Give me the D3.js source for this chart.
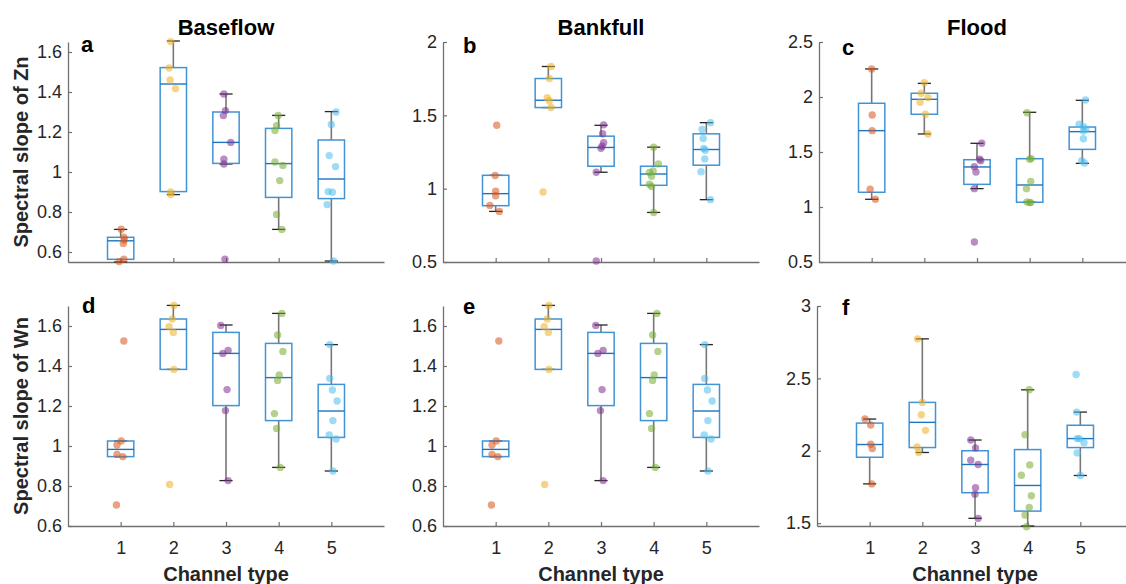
<!DOCTYPE html>
<html>
<head>
<meta charset="utf-8">
<script src="https://cdn.jsdelivr.net/npm/d3@7"></script>
<style>
  html, body { margin: 0; padding: 0; background: #fff; overflow: hidden; }
  svg { display: block; font-family: 'Liberation Sans', Arial, sans-serif; }
</style>
</head>
<body>
<svg id="chart" width="1126" height="584"></svg>
<script>
/* ------------------------------- data ------------------------------- */
const channels = [1, 2, 3, 4, 5];
const channelColors = ['#D95319', '#EDB120', '#7E2F8E', '#77AC30', '#4DBEEE'];
const flowTitles = ['Baseflow', 'Bankfull', 'Flood'];
const panelLetters = ['a', 'b', 'c', 'd', 'e', 'f'];
const rowLabels = ['Spectral slope of Zn', 'Spectral slope of Wn'];
const xLabel = 'Channel type';

const yLimits = [[0.55, 1.65], [0.5, 2], [0.5, 2.5], [0.6, 1.7], [0.6, 1.7], [1.48, 3]];
const yTicks = [
  [0.6, 0.8, 1, 1.2, 1.4, 1.6],
  [0.5, 1, 1.5, 2],
  [0.5, 1, 1.5, 2, 2.5],
  [0.6, 0.8, 1, 1.2, 1.4, 1.6],
  [0.6, 0.8, 1, 1.2, 1.4, 1.6],
  [1.5, 2, 2.5, 3],
];

// box stats per channel: [lower whisker, q1, median, q3, upper whisker]
const boxBaseZn = [
  [0.55, 0.5635, 0.656, 0.6735, 0.713],
  [0.887, 0.902, 1.44, 1.522, 1.655],
  [1.04, 1.043, 1.148, 1.30, 1.39],
  [0.713, 0.873, 1.042, 1.218, 1.283],
  [0.555, 0.867, 0.965, 1.16, 1.302],
];
const boxBankZn = [
  [0.845, 0.884, 0.966, 1.091, 1.091],
  [1.553, 1.553, 1.603, 1.751, 1.833],
  [1.112, 1.153, 1.281, 1.358, 1.432],
  [0.838, 1.023, 1.10, 1.153, 1.283],
  [0.925, 1.16, 1.267, 1.374, 1.45],
];
const boxFloodZn = [
  [1.07, 1.134, 1.694, 1.943, 2.255],
  [1.664, 1.843, 1.979, 2.034, 2.124],
  [1.167, 1.206, 1.364, 1.43, 1.579],
  [1.043, 1.043, 1.20, 1.439, 1.861],
  [1.397, 1.524, 1.685, 1.727, 1.97],
];
const boxBaseWn = [
  [0.947, 0.947, 0.983, 1.025, 1.025],
  [1.383, 1.383, 1.583, 1.635, 1.703],
  [0.827, 1.202, 1.463, 1.568, 1.605],
  [0.893, 1.127, 1.342, 1.513, 1.663],
  [0.875, 1.043, 1.175, 1.308, 1.507],
];
const boxBankWn = [
  [0.947, 0.947, 0.983, 1.025, 1.025],
  [1.383, 1.383, 1.583, 1.635, 1.703],
  [0.827, 1.202, 1.463, 1.568, 1.605],
  [0.893, 1.127, 1.342, 1.513, 1.663],
  [0.875, 1.043, 1.175, 1.308, 1.507],
];
const boxFloodWn = [
  [1.771, 1.955, 2.043, 2.191, 2.219],
  [1.988, 2.022, 2.196, 2.334, 2.773],
  [1.533, 1.71, 1.905, 2.0, 2.074],
  [1.48, 1.583, 1.76, 2.008, 2.421],
  [1.829, 2.022, 2.084, 2.176, 2.267],
];

// individual samples per channel
const ptsBaseZn = [
  [0.714, 0.674, 0.66, 0.643, 0.564, 0.552],
  [1.652, 1.52, 1.46, 1.417, 0.90, 0.887],
  [1.39, 1.307, 1.282, 1.148, 1.064, 1.04, 0.564],
  [1.283, 1.232, 1.207, 1.05, 1.033, 0.957, 0.788, 0.713],
  [1.30, 1.238, 1.082, 1.027, 0.902, 0.899, 0.837, 0.555],
];
const ptsBankZn = [
  [1.432, 1.09, 0.982, 0.952, 0.886, 0.845],
  [1.833, 1.751, 1.62, 1.60, 1.553, 0.977],
  [1.435, 1.374, 1.313, 1.29, 1.275, 1.112, 0.507],
  [1.283, 1.169, 1.12, 1.11, 1.085, 1.03, 1.015, 0.838],
  [1.45, 1.404, 1.342, 1.274, 1.262, 1.203, 1.116, 0.925],
];
const ptsFloodZn = [
  [2.255, 1.836, 1.694, 1.161, 1.07],
  [2.13, 2.034, 1.994, 1.952, 1.843, 1.664],
  [1.58, 1.435, 1.42, 1.367, 1.318, 1.167, 0.682],
  [1.857, 1.44, 1.435, 1.233, 1.167, 1.045, 1.04, 1.04],
  [1.973, 1.752, 1.73, 1.706, 1.69, 1.62, 1.42, 1.40],
];
const ptsBaseWn = [
  [1.525, 1.025, 1.005, 0.958, 0.947, 0.705],
  [1.703, 1.635, 1.597, 1.568, 1.383, 0.808],
  [1.603, 1.478, 1.463, 1.282, 1.177, 0.827],
  [1.663, 1.555, 1.473, 1.355, 1.328, 1.162, 1.088, 0.893],
  [1.507, 1.338, 1.28, 1.225, 1.127, 1.055, 1.035, 0.875],
];
const ptsBankWn = [
  [1.525, 1.025, 1.005, 0.958, 0.947, 0.705],
  [1.703, 1.635, 1.597, 1.568, 1.383, 0.808],
  [1.603, 1.478, 1.463, 1.282, 1.177, 0.827],
  [1.663, 1.555, 1.473, 1.355, 1.328, 1.162, 1.088, 0.893],
  [1.507, 1.338, 1.28, 1.225, 1.127, 1.055, 1.035, 0.875],
];
const ptsFloodWn = [
  [2.219, 2.178, 2.045, 2.015, 1.771],
  [2.773, 2.334, 2.249, 2.141, 2.026, 1.988],
  [2.074, 2.019, 1.935, 1.905, 1.744, 1.70, 1.533],
  [2.421, 2.111, 1.902, 1.831, 1.689, 1.609, 1.556, 1.475],
  [2.527, 2.267, 2.084, 2.084, 2.056, 1.985, 1.829],
];

// horizontal jitter of each sample (channel units)
const jitBaseZn = [
  [0.01, 0.06, 0.07, 0.05, 0.06, -0.03],
  [-0.05, -0.08, -0.06, 0.04, -0.05, -0.05],
  [-0.04, -0.01, -0.05, 0.09, -0.04, -0.04, -0.02],
  [-0.01, -0.04, -0.07, -0.07, 0.08, 0.02, -0.04, 0.06],
  [0.09, 0, -0.04, 0.08, -0.06, 0.02, -0.08, 0.04],
];
const jitBankZn = [
  [0.02, -0.01, 0, 0, -0.11, 0.07],
  [0.05, 0.02, -0.02, 0.02, 0.05, -0.1],
  [0.05, 0.03, 0.05, 0.02, 0, -0.09, -0.09],
  [0, 0.09, -0.01, -0.08, -0.04, -0.08, -0.04, 0],
  [0.08, -0.08, -0.06, -0.05, -0.02, -0.03, -0.1, 0.08],
];
const jitFloodZn = [
  [0, 0.01, 0.01, -0.03, 0.07],
  [0, -0.06, 0.07, -0.08, 0.02, 0.07],
  [0.09, 0.05, 0.07, -0.05, -0.02, -0.05, -0.05],
  [-0.05, 0.03, 0, 0.02, -0.06, -0.05, 0, 0.02],
  [0.06, -0.06, 0.02, 0.07, 0.02, 0.02, -0.01, 0.04],
];
const jitBaseWn = [
  [0.06, 0.01, -0.07, -0.07, 0.04, -0.08],
  [0.01, -0.02, -0.08, 0, 0.01, -0.07],
  [-0.1, 0.04, -0.06, 0.02, -0.01, 0.04],
  [0.06, -0.02, 0.08, 0.01, -0.02, -0.08, -0.04, 0.03],
  [-0.03, -0.03, 0.02, 0.11, 0.03, -0.04, 0.09, 0.03],
];
const jitBankWn = [
  [0.06, 0.01, -0.07, -0.07, 0.04, -0.08],
  [0.01, -0.02, -0.08, 0, 0.01, -0.07],
  [-0.1, 0.04, -0.06, 0.02, -0.01, 0.04],
  [0.06, -0.02, 0.08, 0.01, -0.02, -0.08, -0.04, 0.03],
  [-0.03, -0.03, 0.02, 0.11, 0.03, -0.04, 0.09, 0.03],
];
const jitFloodWn = [
  [-0.09, 0.02, 0.02, 0.05, 0.04],
  [-0.09, 0, -0.02, 0.06, -0.1, -0.07],
  [-0.08, 0.01, -0.08, 0.06, 0.01, 0, 0.06],
  [0.03, -0.05, 0.04, -0.12, 0.07, 0.03, -0.05, -0.02],
  [-0.08, -0.07, -0.06, -0.02, 0.07, -0.06, 0],
];

/* ------------------------------ layout ------------------------------ */
const width = 1126;
const height = 584;
const panelW = 316;
const panelH = 220;
const colLeft = [[68, 443, 819], [68, 443, 817]];
const rowTop = [42, 306];
const letterPos = [[81, 52], [463, 53], [842, 55], [82, 313], [463, 314], [842, 315]];

const styles = {
  axis: '#707070',
  tickText: '#262626',
  box: '#4293d4',
  median: '#1f74bd',
  whisker: '#777777',
  cap: '#262626',
};

const boxes = [boxBaseZn, boxBankZn, boxFloodZn, boxBaseWn, boxBankWn, boxFloodWn];
const points = [ptsBaseZn, ptsBankZn, ptsFloodZn, ptsBaseWn, ptsBankWn, ptsFloodWn];
const jitters = [jitBaseZn, jitBankZn, jitFloodZn, jitBaseWn, jitBankWn, jitFloodWn];

const svg = d3.select('#chart').attr('width', width).attr('height', height);

const drawPanel = (i) => {
  const row = Math.floor(i / 3);
  const col = i % 3;
  const left = colLeft[row][col];
  const top = rowTop[row];
  const bottom = top + panelH;

  const x = d3.scaleLinear().domain([0, 6]).range([left, left + panelW]);
  const y = d3.scaleLinear().domain(yLimits[i]).range([bottom, top]);

  const g = svg.append('g');

  // axes (ticks point inward, box off)
  const yAxis = g.append('g')
    .attr('transform', `translate(${left},0)`)
    .call(d3.axisLeft(y).tickValues(yTicks[i]).tickSize(-4).tickSizeOuter(0)
      .tickPadding(6).tickFormat((d) => String(d)));
  const xAxis = g.append('g')
    .attr('transform', `translate(0,${bottom})`)
    .call(d3.axisBottom(x).tickValues(channels).tickSize(-4).tickSizeOuter(0)
      .tickPadding(15).tickFormat(row === 1 ? (d) => String(d) : () => ''));

  [yAxis, xAxis].forEach((ax) => {
    ax.attr('font-size', 18).attr('font-family', null);
    ax.select('.domain').attr('stroke', styles.axis).attr('stroke-width', 1.3);
    ax.selectAll('.tick line').attr('stroke', styles.axis).attr('stroke-width', 1.2);
    ax.selectAll('.tick text').attr('fill', styles.tickText);
  });

  // box plots
  const bp = g.append('g')
    .selectAll('g')
    .data(boxes[i])
    .enter()
    .append('g');

  bp.append('line')
    .attr('x1', (d, k) => x(channels[k])).attr('x2', (d, k) => x(channels[k]))
    .attr('y1', (d) => y(d[4])).attr('y2', (d) => y(d[3]))
    .attr('stroke', styles.whisker).attr('stroke-width', 1.6);
  bp.append('line')
    .attr('x1', (d, k) => x(channels[k])).attr('x2', (d, k) => x(channels[k]))
    .attr('y1', (d) => y(d[1])).attr('y2', (d) => y(d[0]))
    .attr('stroke', styles.whisker).attr('stroke-width', 1.6);

  [0, 4].forEach((q) => {
    bp.append('line')
      .attr('x1', (d, k) => x(channels[k] - 0.125)).attr('x2', (d, k) => x(channels[k] + 0.125))
      .attr('y1', (d) => y(d[q])).attr('y2', (d) => y(d[q]))
      .attr('stroke', styles.cap).attr('stroke-width', 1.3);
  });

  bp.append('rect')
    .attr('x', (d, k) => x(channels[k] - 0.25))
    .attr('width', (d, k) => x(channels[k] + 0.25) - x(channels[k] - 0.25))
    .attr('y', (d) => y(d[3]))
    .attr('height', (d) => y(d[1]) - y(d[3]))
    .attr('fill', 'none')
    .attr('stroke', styles.box)
    .attr('stroke-width', 1.5);

  bp.append('line')
    .attr('x1', (d, k) => x(channels[k] - 0.25)).attr('x2', (d, k) => x(channels[k] + 0.25))
    .attr('y1', (d) => y(d[2])).attr('y2', (d) => y(d[2]))
    .attr('stroke', styles.median).attr('stroke-width', 1.4);

  // samples
  const dots = [];
  points[i].forEach((vals, k) => {
    vals.forEach((v, m) => dots.push({ c: channels[k], dx: jitters[i][k][m], v, color: channelColors[k] }));
  });
  g.append('g')
    .selectAll('circle')
    .data(dots)
    .enter()
    .append('circle')
    .attr('cx', (d) => x(d.c + d.dx))
    .attr('cy', (d) => y(d.v))
    .attr('r', 3.7)
    .attr('fill', (d) => d.color)
    .attr('fill-opacity', 0.55);

  // panel letter
  g.append('text')
    .attr('x', letterPos[i][0])
    .attr('y', letterPos[i][1])
    .attr('font-size', 22)
    .attr('font-weight', 'bold')
    .attr('fill', '#000')
    .text(panelLetters[i]);

  if (row === 0) {
    g.append('text')
      .attr('x', x(3))
      .attr('y', 35)
      .attr('text-anchor', 'middle')
      .attr('font-size', 22)
      .attr('font-weight', 'bold')
      .attr('fill', '#000')
      .text(flowTitles[col]);
  } else {
    g.append('text')
      .attr('x', x(3))
      .attr('y', 581)
      .attr('text-anchor', 'middle')
      .attr('font-size', 20)
      .attr('font-weight', 'bold')
      .attr('fill', '#262626')
      .text(xLabel);
  }

  if (col === 0) {
    g.append('text')
      .attr('transform', `translate(28,${(top + bottom) / 2}) rotate(-90)`)
      .attr('text-anchor', 'middle')
      .attr('font-size', 20)
      .attr('font-weight', 'bold')
      .attr('fill', '#262626')
      .text(rowLabels[row]);
  }
};

d3.range(6).forEach(drawPanel);
</script>
</body>
</html>
